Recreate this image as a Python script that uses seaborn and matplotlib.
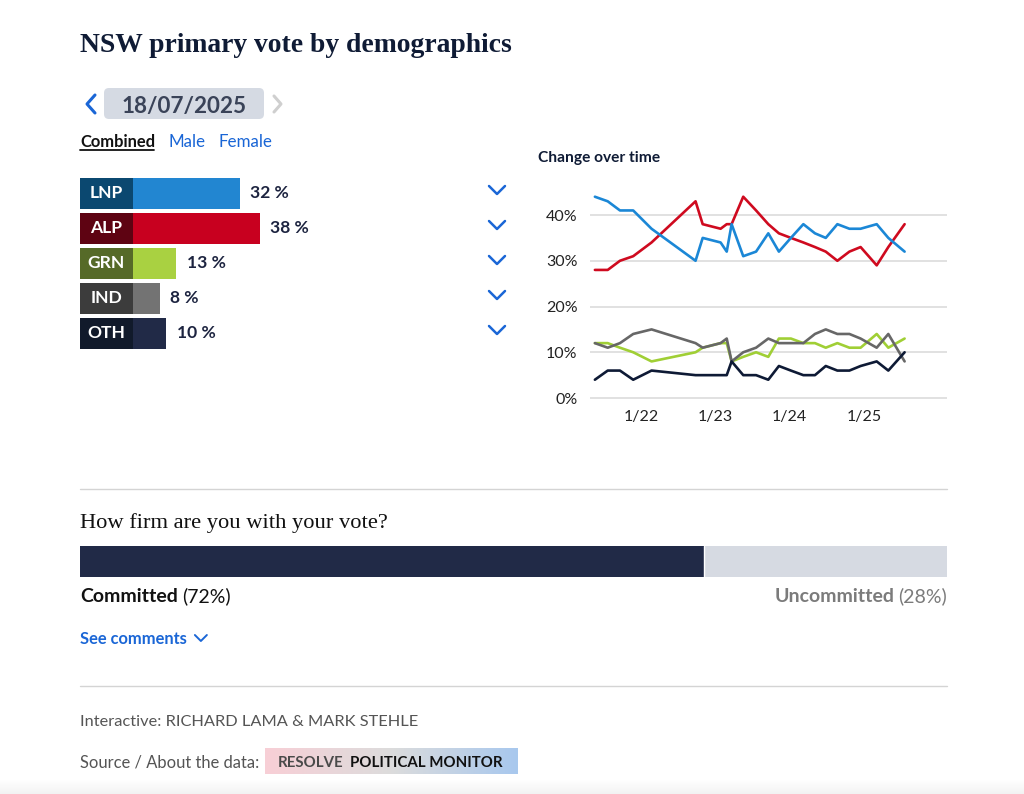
import numpy as np
import pandas as pd
import matplotlib
matplotlib.use("Agg")
import matplotlib.pyplot as plt
from matplotlib.patches import FancyBboxPatch
import seaborn as sns

# -----------------------------
# Data
# -----------------------------
parties = ["LNP", "ALP", "GRN", "IND", "OTH"]
latest_share = [32, 38, 13, 8, 10]

poll_dates = [
    "2021-05-20", "2021-07-22", "2021-09-20", "2021-11-24", "2022-02-22",
    "2022-09-26", "2022-10-31", "2023-01-27", "2023-02-26", "2023-03-22",
    "2023-05-18", "2023-07-20", "2023-09-18", "2023-11-09", "2024-01-07",
    "2024-03-08", "2024-05-04", "2024-06-26", "2024-08-22", "2024-10-20",
    "2024-12-14", "2025-03-03", "2025-04-29", "2025-07-18",
]
lnp = [44, 43, 41, 41, 37, 30, 35, 34, 32, 38, 31, 32, 36, 32, 35, 38, 36, 35, 38, 37, 37, 38, 35, 32]
alp = [28, 28, 30, 31, 34, 43, 38, 37, 38, 38, 44, 41, 38, 36, 35, 34, 33, 32, 30, 32, 33, 29, 33, 38]
grn = [12, 12, 11, 10, 8, 10, 11, 12, 12, 8, 9, 10, 9, 13, 13, 12, 12, 11, 12, 11, 11, 14, 11, 13]
ind = [12, 11, 12, 14, 15, 12, 11, 12, 13, 8, 10, 11, 13, 12, 12, 12, 14, 15, 14, 14, 13, 11, 14, 8]
oth = [4, 6, 6, 4, 6, 5, 5, 5, 5, 8, 5, 5, 4, 7, 6, 5, 5, 7, 6, 6, 7, 8, 6, 10]

x_tick_dates = ["2022-01-01", "2023-01-01", "2024-01-01", "2025-01-01"]
x_tick_labels = ["1/22", "1/23", "1/24", "1/25"]
y_ticks = [0, 10, 20, 30, 40]

committed = 72
uncommitted = 28

# -----------------------------
# Colours / fonts
# -----------------------------
bar_colors = ["#2286d1", "#c8001f", "#a9d141", "#737373", "#212a47"]
box_colors = ["#0b4870", "#5e0312", "#566a28", "#3c3c3c", "#111a2b"]
line_colors = {"LNP": "#1b87d6", "ALP": "#cf0a1f", "GRN": "#a0cf35",
               "IND": "#676767", "OTH": "#0e1a35"}
NAVY = "#0f1b35"
BLUE = "#1a66d6"
SERIF = ["Liberation Serif", "DejaVu Serif"]

sns.set_theme(style="white")
plt.rcParams["font.family"] = ["Lato", "DejaVu Sans"]

W, H = 1024, 794
fig = plt.figure(figsize=(W / 100, H / 100), dpi=100)
fig.patch.set_facecolor("white")


def ax_at(x0, y0, x1, y1):
    # pixel box measured from the top-left corner
    return fig.add_axes([x0 / W, 1 - y1 / H, (x1 - x0) / W, (y1 - y0) / H])


def pt(px):
    return px * 0.72


# overlay axes in pixel units for the page furniture
ov = ax_at(0, 0, W, H)
ov.set_xlim(0, W)
ov.set_ylim(H, 0)
ov.axis("off")

# -----------------------------
# Header
# -----------------------------
ov.text(80, 52, "NSW primary vote by demographics", family=SERIF, weight="bold",
        fontsize=pt(27.6), color=NAVY, va="baseline")

ov.plot([95, 87, 95], [95, 104, 113], color=BLUE, lw=2.2, solid_capstyle="round")
ov.add_patch(FancyBboxPatch((104, 88), 160, 31, boxstyle="round,pad=0,rounding_size=5",
                            fc="#d5dae3", ec="none"))
ov.text(184, 113, "18/07/2025", ha="center", va="baseline", fontsize=pt(22.5),
        weight="bold", color="#3a4358")
ov.plot([274, 281, 274], [96, 104, 112], color="#cfcfcf", lw=2.2, solid_capstyle="round")

ov.text(80, 147, "Combined", weight="bold", fontsize=pt(16.5), color="#111111", va="baseline")
ov.plot([80, 154], [150, 150], color="#111111", lw=1.3)
ov.text(168, 147, "Male", fontsize=pt(17), color=BLUE, va="baseline")
ov.text(218, 147, "Female", fontsize=pt(17), color=BLUE, va="baseline")

# -----------------------------
# Latest result bars
# -----------------------------
bx = ax_at(80, 175.5, 520, 350.5)
df_bar = pd.DataFrame({"party": parties, "share": latest_share})
sns.barplot(data=df_bar, y="party", x="share", hue="party", palette=bar_colors,
            orient="h", width=31 / 35, saturation=1, legend=False, linewidth=0,
            edgecolor="none", ax=bx)
box_w = 15.9
bx.barh(range(len(parties)), [box_w] * len(parties), left=-box_w, height=31 / 35,
        color=box_colors, linewidth=0, edgecolor="none")
for i, (p, v) in enumerate(zip(parties, latest_share)):
    bx.text(-box_w / 2, i, p, ha="center", va="center", color="white",
            weight="bold", fontsize=pt(17.5))
    bx.text(v + 3.2, i, f"{v} %", ha="left", va="center", color="#1d2440",
            weight="bold", fontsize=pt(17.5))
bx.set_xlim(-box_w, -box_w + 440 / 3.333)
bx.set_ylim(len(parties) - 0.5, -0.5)
bx.axis("off")

for y in [190, 225, 260, 295, 330]:
    ov.plot([489, 497, 505], [y - 4, y + 4, y - 4], color=BLUE, lw=1.8,
            solid_capstyle="round")

# -----------------------------
# Change over time
# -----------------------------
ov.text(538, 162, "Change over time", weight="bold", fontsize=pt(15.5), color=NAVY,
        va="baseline")

series = {"LNP": lnp, "ALP": alp, "GRN": grn, "IND": ind, "OTH": oth}
long = pd.concat(
    [pd.DataFrame({"date": pd.to_datetime(poll_dates), "share": vals, "party": name})
     for name, vals in series.items()],
    ignore_index=True,
)

lx = ax_at(590, 183, 947, 402.6)
sns.lineplot(data=long, x="date", y="share", hue="party",
             hue_order=["ALP", "LNP", "GRN", "IND", "OTH"], palette=line_colors,
             estimator=None, linewidth=1.9, legend=False, ax=lx)
lx.set_xlim(pd.Timestamp("2021-04-26"), pd.Timestamp("2026-02-11"))
lx.set_ylim(-1, 47)
lx.set_yticks(y_ticks)
lx.set_yticklabels([f"{t}%" for t in y_ticks])
lx.set_xticks(pd.to_datetime(x_tick_dates))
lx.set_xticklabels(x_tick_labels)
lx.yaxis.grid(True, color="#d9d9d9", lw=1.1)
lx.xaxis.grid(False)
lx.set_axisbelow(True)
lx.set_xlabel("")
lx.set_ylabel("")
sns.despine(ax=lx, left=True, bottom=True)
lx.tick_params(axis="y", length=0, pad=9, labelsize=pt(16), labelcolor="#222222")
lx.tick_params(axis="x", length=0, pad=5, labelsize=pt(16), labelcolor="#222222")
lx.patch.set_alpha(0)

# -----------------------------
# Firmness of vote
# -----------------------------
ov.plot([80, 947], [489, 489], color="#d4d4d4", lw=1.0)
ov.text(80, 528, "How firm are you with your vote?", family=SERIF, fontsize=pt(22.5),
        color="#111111", va="baseline")

cx = ax_at(80, 546, 947, 577)
sns.barplot(x=[100], y=["vote"], orient="h", color="#d6dae2", width=1,
            saturation=1, linewidth=0, ax=cx)
sns.barplot(x=[committed], y=["vote"], orient="h", color="#212a47", width=1,
            saturation=1, linewidth=0, ax=cx)
cx.axvline(committed, color="white", lw=1)
cx.set_xlim(0, 100)
cx.set_ylim(0.5, -0.5)
cx.axis("off")

renderer = fig.canvas.get_renderer()

t1 = ov.text(80, 602, "Committed", weight="bold", fontsize=pt(19.5), color="#111111",
             va="baseline")
w1 = t1.get_window_extent(renderer=renderer).width
ov.text(80 + w1 + 4, 602, f"({committed}%)", fontsize=pt(19.5), color="#111111",
        va="baseline")

t2 = ov.text(947, 602, f"({uncommitted}%)", ha="right", fontsize=pt(19.5),
             color="#7b7b7b", va="baseline")
w2 = t2.get_window_extent(renderer=renderer).width
ov.text(947 - w2 - 4, 602, "Uncommitted", ha="right", weight="bold",
        fontsize=pt(19.5), color="#7b7b7b", va="baseline")

t3 = ov.text(80, 644, "See comments", weight="bold", fontsize=pt(16.5), color=BLUE,
             va="baseline")
w3 = t3.get_window_extent(renderer=renderer).width
cxp = 80 + w3 + 14
ov.plot([cxp - 6, cxp, cxp + 6], [635, 641, 635], color=BLUE, lw=1.4)

# -----------------------------
# Footer
# -----------------------------
ov.plot([80, 947], [686, 686], color="#d4d4d4", lw=1.0)
ov.text(80, 726, "Interactive: RICHARD LAMA & MARK STEHLE", fontsize=pt(16.4),
        color="#555555", va="baseline")
ov.text(80, 767, "Source / About the data:", fontsize=pt(16.5), color="#555555",
        va="baseline")

grad_stops = np.array([[248, 207, 214], [220, 220, 220], [168, 200, 238]]) / 255
pos = np.linspace(0, 1, 256)
grad = np.stack([np.interp(pos, [0, 0.5, 1], grad_stops[:, k]) for k in range(3)], axis=-1)
ov.imshow(grad[None, :, :], extent=(265, 518, 774, 748), aspect="auto", zorder=1)

# faint shade along the bottom edge of the page
shade = np.ones((20, 2, 4))
shade[..., :3] = 0.95
shade[..., 3] = np.linspace(0, 1, 20)[:, None]
ov.imshow(shade, extent=(0, W, H, H - 14), aspect="auto", zorder=0)
ov.set_xlim(0, W)
ov.set_ylim(H, 0)

t4 = ov.text(278, 767, "RESOLVE", weight="bold", fontsize=pt(15), color="#4a4a4a",
             va="baseline", zorder=2)
w4 = t4.get_window_extent(renderer=renderer).width
ov.text(278 + w4 + 6, 767, "POLITICAL MONITOR", weight="bold", fontsize=pt(15),
        color="#111111", va="baseline", zorder=2)

fig.savefig("out.png", dpi=100, facecolor="white")
